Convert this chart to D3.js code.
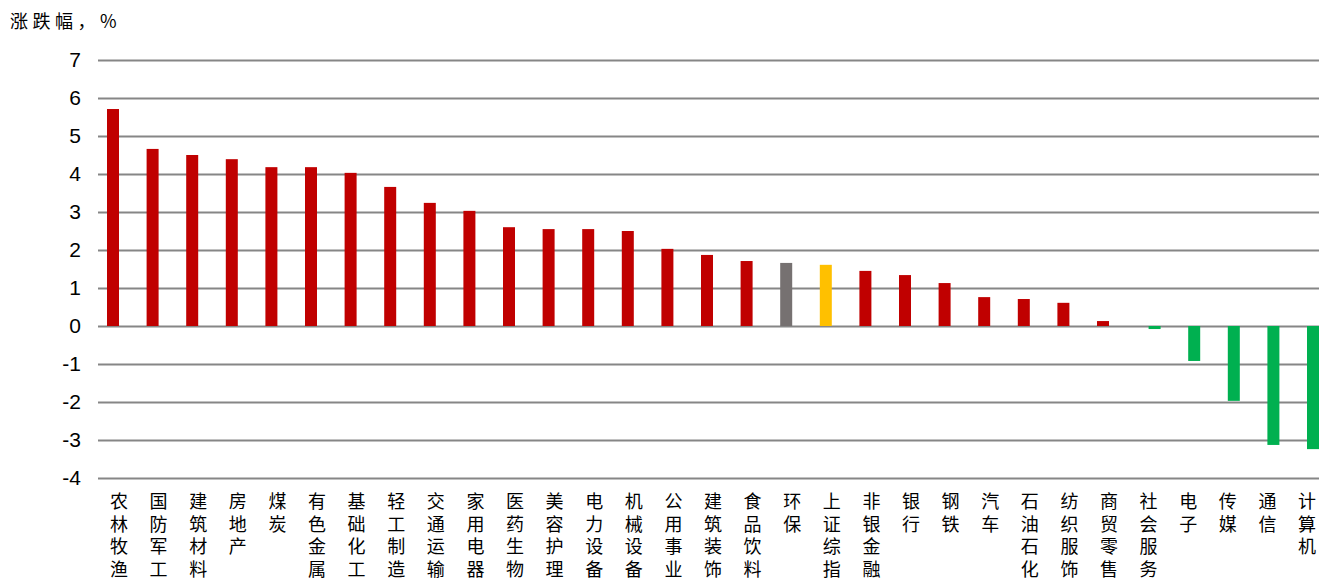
<!DOCTYPE html>
<html>
<head>
<meta charset="utf-8">
<script src="https://cdn.jsdelivr.net/npm/d3@7"></script>
<style>
  body { margin: 0; background: #fff; }
  .y.axis text { font-family: "Liberation Sans", Arial, sans-serif; font-size: 21px; fill: #000; }
  .y.axis line { stroke: #868686; stroke-width: 2; }
  .cat { font-family: "Noto Sans CJK SC", sans-serif; font-size: 18px; fill: #000; }
</style>
</head>
<body>
<script>
const categories = ['农林牧渔', '国防军工', '建筑材料', '房地产', '煤炭', '有色金属', '基础化工', '轻工制造',
    '交通运输', '家用电器', '医药生物', '美容护理', '电力设备', '机械设备', '公用事业', '建筑装饰',
    '食品饮料', '环保', '上证综指', '非银金融', '银行', '钢铁', '汽车', '石油石化', '纺织服饰',
    '商贸零售', '社会服务', '电子', '传媒', '通信', '计算机']
const changes = [5.71, 4.66, 4.50, 4.39, 4.18, 4.18, 4.03, 3.66,
    3.24, 3.03, 2.60, 2.55, 2.55, 2.50, 2.03, 1.87,
    1.71, 1.66, 1.61, 1.45, 1.34, 1.13, 0.76, 0.71, 0.61,
    0.13, -0.08, -0.92, -1.97, -3.13, -3.24]
const series = ['上涨', '下跌']
const yTicks = [-4, -3, -2, -1, 0, 1, 2, 3, 4, 5, 6, 7]
const yLabel = '涨跌幅，%'

const data = categories.map((c, i) => ({ name: c, value: changes[i], series: changes[i] < 0 ? '下跌' : '上涨' }))

const width = 1319, height = 583
const svg = d3.select('body').append('svg')
    .attr('width', width)
    .attr('height', height)

const yScale = d3.scaleLinear()
    .domain([-4, 7])
    .range([478, 60])

const xScale = d3.scaleBand()
    .domain(categories)
    .range([99.2, 1326.8])

// two clustered series in each category: rising on the left, falling on the right
const xSub = d3.scaleBand()
    .domain(series)
    .range([xScale.bandwidth() / 2 - 12, xScale.bandwidth() / 2 + 12])

const gridLeft = 98, gridRight = 1319

svg.append('g')
    .attr('class', 'y axis')
    .attr('transform', `translate(${gridLeft}, 0)`)
    .call(d3.axisLeft(yScale).tickValues(yTicks).tickFormat(d => String(d))
        .tickSize(-(gridRight - gridLeft)).tickPadding(17))
    .call(g => g.select('.domain').remove())

const barColor = d => {
    if (d.name === '环保') return '#767171'
    if (d.name === '上证综指') return '#FFC000'
    return d.value < 0 ? '#00B050' : '#C00000'
}

svg.selectAll('.bar')
    .data(data)
    .enter().append('rect')
    .attr('class', 'bar')
    .attr('x', d => xScale(d.name) + xSub(d.series))
    .attr('width', xSub.bandwidth())
    .attr('y', d => yScale(Math.max(0, d.value)))
    .attr('height', d => Math.abs(yScale(d.value) - yScale(0)))
    .style('fill', barColor)

// vertical category labels, one character per line
const labels = svg.selectAll('.cat')
    .data(data)
    .enter().append('text')
    .attr('class', 'cat')
    .attr('text-anchor', 'middle')

labels.selectAll('tspan')
    .data(d => Array.from(d.name).map(ch => ({ ch, x: xScale(d.name) + xScale.bandwidth() / 2 })))
    .enter().append('tspan')
    .attr('x', d => d.x)
    .attr('y', (d, i) => 508 + i * 22.5)
    .text(d => d.ch)

svg.append('text')
    .attr('x', 10)
    .attr('y', 28)
    .style('font-family', '"Noto Sans CJK SC", sans-serif')
    .style('font-size', '18px')
    .style('letter-spacing', '4.5px')
    .text(yLabel)
</script>
</body>
</html>
